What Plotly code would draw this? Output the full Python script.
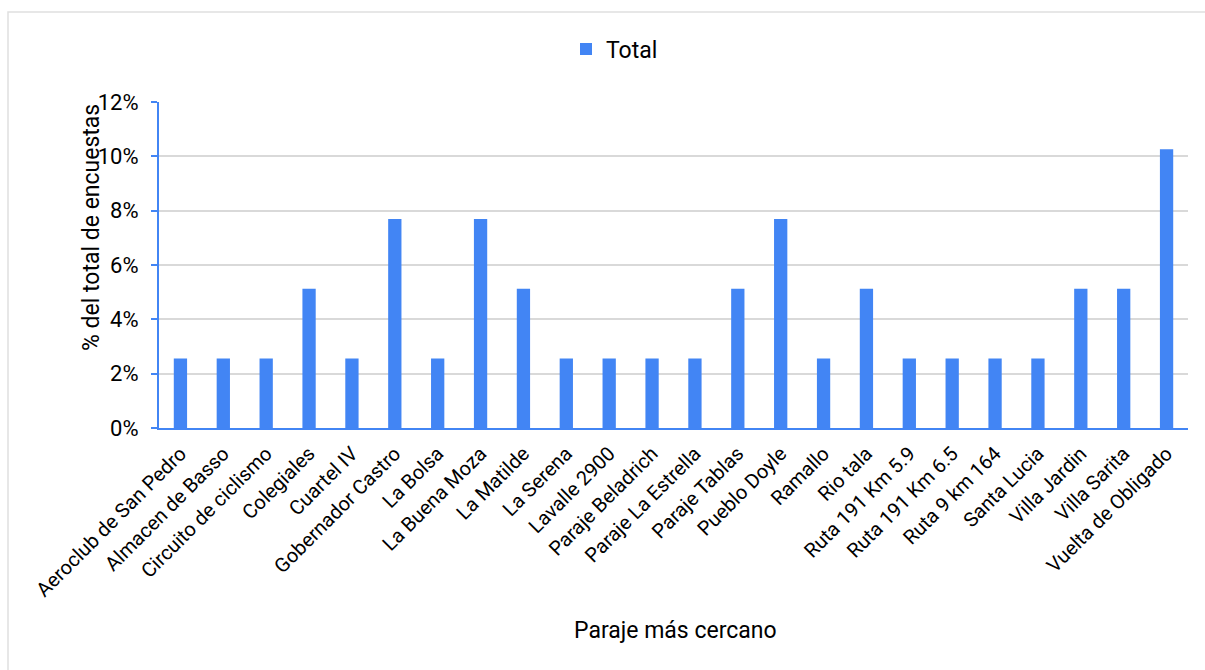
import plotly.graph_objects as go

# Survey responses grouped by nearest locality (share of 39 surveys)
parajes = [
    "Aeroclub de San Pedro", "Almacen de Basso", "Circuito de ciclismo", "Colegiales",
    "Cuartel IV", "Gobernador Castro", "La Bolsa", "La Buena Moza", "La Matilde",
    "La Serena", "Lavalle 2900", "Paraje Beladrich", "Paraje La Estrella", "Paraje Tablas",
    "Pueblo Doyle", "Ramallo", "Rio tala", "Ruta 191 Km 5.9", "Ruta 191 Km 6.5",
    "Ruta 9 km 164", "Santa Lucia", "Villa Jardin", "Villa Sarita", "Vuelta de Obligado",
]
porcentaje = [
    0.0256, 0.0256, 0.0256, 0.0513, 0.0256, 0.0769, 0.0256, 0.0769, 0.0513,
    0.0256, 0.0256, 0.0256, 0.0256, 0.0513, 0.0769, 0.0256, 0.0513, 0.0256,
    0.0256, 0.0256, 0.0256, 0.0513, 0.0513, 0.1026,
]
y_ticks = [0, 0.02, 0.04, 0.06, 0.08, 0.10, 0.12]

BLUE = "#4285F4"
FONT = "Roboto"

# Plot-area pixel geometry used to place shapes/annotations
W, H = 1205, 670
L, R, T, B = 159, 1188, 102, 428


def px_x(px):
    return (px - L) / (R - L)


def px_y(py):
    return (B - py) / (B - T)


fig = go.Figure()
fig.add_trace(go.Bar(
    x=parajes, y=porcentaje, name="Total",
    marker=dict(color=BLUE, line=dict(width=0)),
    showlegend=True,
))

fig.update_layout(
    width=W, height=H,
    margin=dict(l=L, r=W - R, t=T, b=H - B, autoexpand=False),
    paper_bgcolor="white", plot_bgcolor="white",
    font=dict(family=FONT, color="#000000"),
    bargap=0.69,
    showlegend=True,
    legend=dict(
        orientation="h", x=px_x(566), y=px_y(49), xanchor="left", yanchor="middle",
        font=dict(family=FONT, size=23, color="#000"),
        itemwidth=30,
    ),
    xaxis=dict(
        type="category",
        tickangle=-45,
        tickfont=dict(family=FONT, size=20, color="#000"),
        showline=True, linecolor=BLUE, linewidth=2,
        ticks="", showgrid=False,
        ticklabelstandoff=4,
    ),
    yaxis=dict(
        range=[0, 0.12],
        tickvals=y_ticks,
        tickformat=".0%",
        tickfont=dict(family=FONT, size=22, color="#000"),
        showline=True, linecolor=BLUE, linewidth=2,
        ticks="outside", ticklen=6, tickcolor=BLUE, tickwidth=2,
        ticklabelstandoff=8,
        showgrid=True, gridcolor="#d9d9d9", gridwidth=1.5,
        zeroline=False,
    ),
    shapes=[
        dict(
            type="rect", xref="paper", yref="paper", layer="below",
            x0=px_x(8), x1=px_x(1215), y0=px_y(680), y1=px_y(12),
            line=dict(color="#e0e0e0", width=1.5), fillcolor="rgba(0,0,0,0)",
        )
    ],
    annotations=[
        dict(
            text="% del total de encuestas", xref="paper", yref="paper",
            x=px_x(91), y=px_y(228), textangle=-90, showarrow=False,
            xanchor="center", yanchor="middle",
            font=dict(family=FONT, size=23, color="#000"),
        ),
        dict(
            text="Paraje más cercano", xref="paper", yref="paper",
            x=px_x(675), y=px_y(630), showarrow=False,
            xanchor="center", yanchor="middle",
            font=dict(family=FONT, size=23, color="#000"),
        ),
    ],
)

fig.write_html("out.html")
